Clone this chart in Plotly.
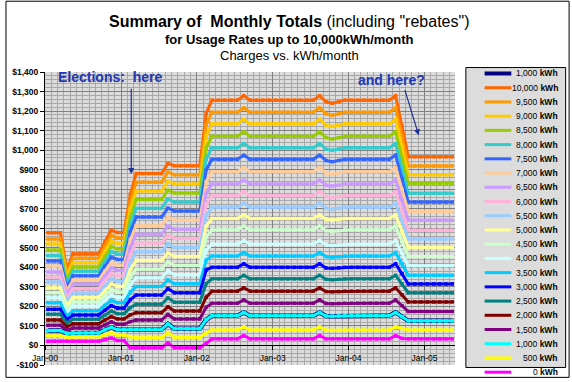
import plotly.graph_objects as go
import pandas as pd

# ---------------- data ----------------
series_labels = ["1,000", "10,000", "9,500", "9,000", "8,500", "8,000", "7,500",
                 "7,000", "6,500", "6,000", "5,500", "5,000", "4,500", "4,000",
                 "3,500", "3,000", "2,500", "2,000", "1,500", "1,000", "500", "0"]
series_colors = ["#000080", "#FF6600", "#FF9900", "#FFCC00", "#99CC00", "#33CCCC",
                 "#3366FF", "#FFCC99", "#CC99FF", "#FFB3D9", "#99CCFF", "#FFFF99",
                 "#CCFFCC", "#CCFFFF", "#00CCFF", "#0000FF", "#008080", "#800000",
                 "#800080", "#00FFFF", "#FFFF00", "#FF00FF"]

# monthly charge levels ($) for 0, 500, 1000, ... 10000 kWh, per billing state
lvl_A   = [22, 49, 76, 103, 130, 160, 185, 219, 244, 270, 295, 325, 351, 376, 405, 433, 460, 489, 519, 545, 577]
lvl_B   = [22, 42, 62, 77, 95, 114, 132, 150, 168, 187, 205, 223, 242, 260, 278, 297, 315, 333, 351, 370, 388]
lvl_C   = [22, 44, 64, 89, 111, 134, 156, 178, 201, 223, 245, 268, 290, 313, 335, 357, 380, 402, 424, 447, 469]
lvl_M9  = [30, 55, 80, 105, 130, 155, 180, 205, 230, 255, 280, 305, 330, 355, 380, 405, 430, 455, 480, 505, 530]
lvl_D   = [38, 66, 93, 121, 148, 176, 204, 231, 259, 286, 314, 342, 369, 397, 424, 452, 480, 507, 535, 562, 590]
lvl_E   = [25, 53, 80, 108, 136, 163, 191, 219, 246, 274, 302, 329, 357, 384, 412, 440, 467, 495, 523, 550, 578]
lvl_M13 = [-12, 45, 81, 122, 157, 194, 235, 273, 311, 350, 388, 427, 466, 504, 543, 582, 620, 659, 697, 736, 774]
lvl_F   = [-12, 40, 82, 130, 168, 211, 258, 302, 346, 391, 435, 480, 524, 569, 613, 658, 702, 747, 791, 836, 880]
lvl_G   = [13, 66, 110, 159, 198, 243, 291, 336, 382, 428, 473, 520, 565, 612, 657, 703, 749, 795, 840, 887, 932]
lvl_H   = [-12, 42, 86, 136, 176, 221, 270, 316, 362, 409, 455, 502, 548, 595, 641, 688, 734, 781, 827, 874, 920]
lvl_M25 = [11, 64, 132, 196, 247, 317, 387, 437, 487, 555, 611, 667, 723, 780, 839, 900, 956, 1013, 1073, 1130, 1189]
lvl_I   = [34, 79, 152, 216, 278, 341, 400, 458, 518, 592, 650, 708, 767, 826, 889, 953, 1012, 1071, 1135, 1194, 1256]
lvl_J   = [50, 95, 169, 233, 295, 359, 418, 476, 536, 611, 669, 728, 787, 846, 909, 974, 1033, 1093, 1157, 1216, 1278]
lvl_M44 = [34, 78, 151, 215, 276, 339, 397, 455, 515, 588, 646, 703, 762, 821, 883, 947, 1005, 1064, 1128, 1186, 1248]
lvl_K   = [34, 78, 150, 214, 275, 337, 395, 452, 512, 585, 642, 699, 757, 816, 878, 941, 999, 1057, 1121, 1179, 1240]
lvl_M56 = [36, 87, 148, 204, 259, 315, 367, 418, 472, 533, 585, 637, 689, 744, 798, 854, 906, 962, 1016, 1068, 1122]
lvl_L   = [34, 79, 126, 174, 223, 270, 315, 359, 408, 455, 501, 545, 590, 641, 686, 734, 779, 830, 874, 919, 966]

# state of each month, Jan-2000 ... May-2005
month_state = (["A", "A", "A", "B", "C", "C", "C", "C", "C", "M9", "D", "E", "E", "M13",
                "F", "F", "F", "F", "F", "G", "H", "H", "H", "H", "H", "M25",
                "I", "I", "I", "I", "I", "J"]
               + ["I"] * 11 + ["J", "M44", "K", "M44"] + ["I"] * 8
               + ["J", "M56"] + ["L"] * 8)

y_tick_vals = [-100, 0, 100, 200, 300, 400, 500, 600, 700, 800, 900, 1000, 1100, 1200, 1300, 1400]
y_tick_text = ["-$100", "$0", "$100", "$200", "$300", "$400", "$500", "$600", "$700",
               "$800", "$900", "$1,000", "$1,100", "$1,200", "$1,300", "$1,400"]

levels = {"A": lvl_A, "B": lvl_B, "C": lvl_C, "M9": lvl_M9, "D": lvl_D, "E": lvl_E,
          "M13": lvl_M13, "F": lvl_F, "G": lvl_G, "H": lvl_H, "M25": lvl_M25, "I": lvl_I,
          "J": lvl_J, "M44": lvl_M44, "K": lvl_K, "M56": lvl_M56, "L": lvl_L}

dates = pd.date_range("2000-01-01", periods=len(month_state), freq="MS") + pd.Timedelta(days=14)

# ---------------- layout helpers ----------------
W, H = 572, 382
PL, PR, PT, PB = 40, 455, 72, 368
FONT = "Liberation Sans, Arial, sans-serif"


def px(x):
    return (x - PL) / (PR - PL)


def py(y):
    return (PB - y) / (PB - PT)


fig = go.Figure()
for lab, col in zip(series_labels, series_colors):
    u = int(lab.replace(",", "")) // 500
    vals = [levels[s][u] for s in month_state]
    width = 4.5 if col == "#000080" else 3
    fig.add_trace(go.Scatter(
        x=dates, y=vals, mode="lines+markers", name=lab + " kWh",
        line=dict(color=col, width=width),
        marker=dict(symbol="square", size=3.5, color=col),
        showlegend=False, hoverinfo="skip"))

shapes = []
annotations = []

# outer border
shapes.append(dict(type="rect", xref="paper", yref="paper",
                   x0=px(0.5), x1=px(570.5), y0=py(380.5), y1=py(0.5),
                   line=dict(color="black", width=1), fillcolor="rgba(0,0,0,0)", layer="above"))

# custom legend box
LB_L, LB_R, LB_T, LB_B = 466, 567, 67.5, 370.5
shapes.append(dict(type="rect", xref="paper", yref="paper",
                   x0=px(LB_L), x1=px(LB_R), y0=py(LB_B), y1=py(LB_T),
                   line=dict(color="black", width=1), fillcolor="#DCDCDC", layer="above"))
row0, row_step = 73.5, 14.37
for i, (lab, col) in enumerate(zip(series_labels, series_colors)):
    yy = row0 + i * row_step
    shapes.append(dict(type="line", xref="paper", yref="paper",
                       x0=px(485), x1=px(512), y0=py(yy), y1=py(yy),
                       line=dict(color=col, width=4 if col == "#000080" else 3), layer="above"))
    annotations.append(dict(xref="paper", yref="paper", x=px(561), y=py(yy),
                            xanchor="right", yanchor="middle", showarrow=False,
                            text=lab + " <b>kWh</b>",
                            font=dict(family=FONT, size=8.5, color="black")))

# titles
annotations.append(dict(xref="paper", yref="paper", x=px(287), y=py(21), xanchor="center",
                        yanchor="middle", showarrow=False,
                        text="<b>Summary of\u00a0 Monthly Totals</b> (including \"rebates\")",
                        font=dict(family=FONT, size=16, color="black")))
annotations.append(dict(xref="paper", yref="paper", x=px(287), y=py(39.5), xanchor="center",
                        yanchor="middle", showarrow=False,
                        text="<b>for Usage Rates up to 10,000kWh/month</b>",
                        font=dict(family=FONT, size=13, color="black")))
annotations.append(dict(xref="paper", yref="paper", x=px(287), y=py(55.5), xanchor="center",
                        yanchor="middle", showarrow=False,
                        text="Charges vs. kWh/month",
                        font=dict(family=FONT, size=13, color="black")))

# callouts
NOTE_COL = "#2238B0"
NARROW = "Liberation Sans Narrow, Arial Narrow, Liberation Sans, Arial, sans-serif"
annotations.append(dict(xref="paper", yref="paper", x=px(105.5), y=py(77.5), xanchor="center",
                        yanchor="middle", showarrow=False, text="<b>Elections:\u00a0 here</b>",
                        font=dict(family=NARROW, size=14, color=NOTE_COL)))
annotations.append(dict(xref="paper", yref="paper", x=px(391), y=py(80), xanchor="center",
                        yanchor="middle", showarrow=False, text="<b>and here?</b>",
                        font=dict(family=NARROW, size=14, color=NOTE_COL)))
annotations.append(dict(xref="paper", yref="paper", x=px(127.3), y=py(175), text="",
                        showarrow=True, arrowhead=2, arrowsize=1, arrowwidth=1.2,
                        arrowcolor="#1F2F90", ax=0, ay=88.3 - 175))
annotations.append(dict(xref="paper", yref="paper", x=px(418.3), y=py(136), text="",
                        showarrow=True, arrowhead=2, arrowsize=1, arrowwidth=1.2,
                        arrowcolor="#1F2F90", ax=404 - 418.3, ay=89.3 - 136))

fig.update_layout(
    width=W, height=H,
    margin=dict(l=PL, r=W - PR, t=PT, b=H - PB, pad=0),
    paper_bgcolor="white", plot_bgcolor="#DCDCDC",
    font=dict(family=FONT, size=9, color="black"),
    shapes=shapes, annotations=annotations,
    showlegend=False,
    xaxis=dict(
        type="date", range=["2000-01-01", "2005-05-28"],
        anchor="free", position=100 / 1500,
        tick0="2000-01-01", dtick="M12", tickformat="%b-%y",
        showgrid=True, gridcolor="#808080", gridwidth=1,
        minor=dict(dtick="M1", tick0="2000-01-01", showgrid=True, gridcolor="#A8A8A8", gridwidth=1),
        showline=True, linecolor="black", linewidth=1,
        ticks="outside", ticklen=4, tickcolor="black",
        tickfont=dict(family=FONT, size=8.5, color="black"),
        zeroline=False, fixedrange=True,
    ),
    yaxis=dict(
        range=[-100, 1400], tickvals=y_tick_vals, ticktext=y_tick_text,
        showgrid=True, gridcolor="#808080", gridwidth=1,
        minor=dict(dtick=20, showgrid=True, gridcolor="#A8A8A8", gridwidth=1),
        showline=True, linecolor="black", linewidth=1,
        ticks="outside", ticklen=4, tickcolor="black",
        tickfont=dict(family=FONT, size=8.5, color="black", weight="bold"),
        zeroline=False, fixedrange=True,
    ),
)

fig.write_html("out.html", config={"displayModeBar": False, "staticPlot": True},
               post_script="document.body.style.margin='0px';document.body.style.overflow='hidden';")
